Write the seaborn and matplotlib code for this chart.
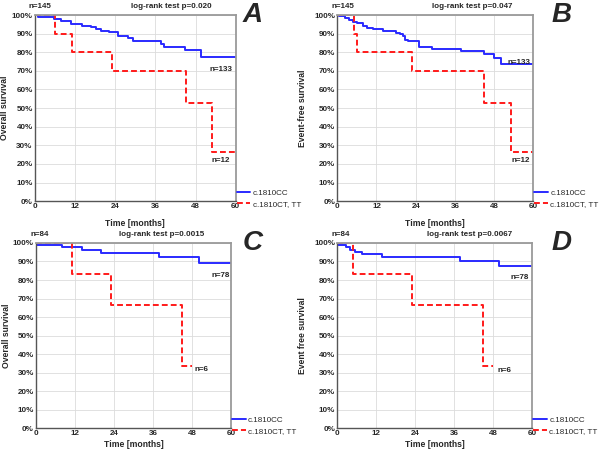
import matplotlib
matplotlib.use("Agg")
import matplotlib.pyplot as plt
import seaborn as sns
import pandas as pd
from matplotlib.ticker import FuncFormatter

# <--- data --->
groups = ["c.1810CC", "c.1810CT, TT"]

a_cc_t = [0, 1.0, 5.6, 7.9, 10.8, 14.0, 16.7, 18.2, 19.8, 22.0, 24.8, 27.9, 29.2, 37.8, 38.7, 44.8, 49.5, 60]
a_cc_s = [100, 98.9, 98.0, 96.6, 95.0, 94.0, 93.3, 92.5, 91.6, 90.7, 88.9, 87.8, 85.8, 84.5, 82.8, 81.2, 77.4, 77.4]
a_ct_t = [0, 6, 11, 23, 45, 53, 60]
a_ct_s = [100, 90, 80, 70, 52.5, 26.25, 26.25]

b_cc_t = [0, 0.5, 2.4, 3.7, 4.8, 6.2, 7.9, 9.1, 11, 14, 16.5, 17.9, 19.1, 20, 20.7, 21.7, 25.1, 29, 38, 45, 47.9, 50, 60]
b_cc_s = [100, 99.3, 98.4, 97.3, 96.4, 95.7, 93.9, 93.1, 92.4, 91.5, 91.2, 90.6, 89.9, 88.8, 86.8, 85.9, 83.0, 82.0, 80.7, 78.8, 77.0, 73.8, 73.8]
b_ct_t = [0, 5, 6, 23, 45, 53, 60]
b_ct_s = [100, 90, 80, 70, 52.5, 26.25, 26.25]

c_cc_t = [0, 7.9, 14, 20, 37.9, 50, 60]
c_cc_s = [98.8, 97.6, 96.3, 94.8, 92.6, 89.3, 89.3]
c_ct_t = [0, 11, 23, 45, 48]
c_ct_s = [100, 83.3, 66.7, 33.3, 33.3]

d_cc_t = [0, 2.6, 3.9, 5.5, 7.7, 13.9, 37.9, 49.8, 60]
d_cc_s = [98.8, 97.6, 96.4, 95.2, 93.9, 92.6, 90.0, 87.4, 87.4]
d_ct_t = [0, 5, 23, 45, 48]
d_ct_s = [100, 83.3, 66.7, 33.3, 33.3]

panel_letters = ["A", "B", "C", "D"]
y_labels = ["Overall survival", "Event-free survival", "Overall survival", "Event free survival"]
n_total = ["n=145", "n=145", "n=84", "n=84"]
p_texts = ["log-rank test p=0.020", "log-rank test p=0.047", "log-rank test p=0.0015", "log-rank test p=0.0067"]
n_cc = ["n=133", "n=133", "n=78", "n=78"]
n_ct = ["n=12", "n=12", "n=6", "n=6"]
x_ticks = [0, 12, 24, 36, 48, 60]
y_ticks = [0, 10, 20, 30, 40, 50, 60, 70, 80, 90, 100]

curves = [
    (a_cc_t, a_cc_s, a_ct_t, a_ct_s),
    (b_cc_t, b_cc_s, b_ct_t, b_ct_s),
    (c_cc_t, c_cc_s, c_ct_t, c_ct_s),
    (d_cc_t, d_cc_s, d_ct_t, d_ct_s),
]

# layout (figure fractions) and label placement per panel
axes_rects = [
    [0.058, 0.558, 0.335, 0.409],
    [0.562, 0.558, 0.327, 0.409],
    [0.060, 0.059, 0.325, 0.407],
    [0.562, 0.059, 0.325, 0.407],
]
letter_x = [1.035, 1.09, 1.06, 1.10]
p_x = [0.68, 0.69, 0.645, 0.68]
cc_lab = [(59, 70.5), (59.1, 74.7), (59.7, 82.7), (59.1, 81.6)]
ct_lab = [(58.2, 22), (58.8, 22), (48.9, 31.9), (49.2, 31.4)]
ylab_x = [-0.128, -0.155, -0.128, -0.155]
xlab_y = [-0.095, -0.095, -0.065, -0.065]

sns.set_style("white")
plt.rcParams["font.family"] = ["Liberation Sans", "DejaVu Sans"]

palette = {groups[0]: "#2a2aff", groups[1]: "#ff1a1a"}
dashes = {groups[0]: "", groups[1]: (3, 1.6)}

fig = plt.figure(figsize=(6, 4.55), dpi=100)

for i in range(4):
    cc_t, cc_s, ct_t, ct_s = curves[i]
    df = pd.DataFrame({
        "time": cc_t + ct_t,
        "surv": cc_s + ct_s,
        "group": [groups[0]] * len(cc_t) + [groups[1]] * len(ct_t),
    })
    ax = fig.add_axes(axes_rects[i])
    sns.lineplot(
        data=df, x="time", y="surv", hue="group", style="group",
        palette=palette, dashes=dashes, estimator=None, sort=False,
        drawstyle="steps-post", linewidth=1.4, legend=False, ax=ax,
    )
    ax.set_xlim(0, 60)
    ax.set_ylim(0, 100)
    ax.set_xticks(x_ticks)
    ax.set_yticks(y_ticks)
    ax.yaxis.set_major_formatter(FuncFormatter(lambda v, p: f"{int(v)}%"))
    ax.tick_params(length=0, pad=1.5, labelsize=5.8)
    for lab in ax.get_xticklabels() + ax.get_yticklabels():
        lab.set_fontweight("bold")
    ax.grid(True, color="#dcdcdc", linewidth=0.6)
    for side in ["top", "right"]:
        ax.spines[side].set_color("#9a9a9a")
        ax.spines[side].set_linewidth(1.3)
    for side in ["left", "bottom"]:
        ax.spines[side].set_color("#555555")
        ax.spines[side].set_linewidth(1.0)

    ax.set_xlabel("Time [months]", fontsize=6.2, fontweight="bold")
    ax.set_ylabel(y_labels[i], fontsize=6.2, fontweight="bold")
    ax.xaxis.set_label_coords(0.5, xlab_y[i])
    ax.yaxis.set_label_coords(ylab_x[i], 0.5)

    ax.text(-0.03, 1.045, n_total[i], transform=ax.transAxes, fontsize=5.8,
            fontweight="bold", ha="left", va="center")
    ax.text(p_x[i], 1.045, p_texts[i], transform=ax.transAxes, fontsize=5.8,
            fontweight="bold", ha="center", va="center")
    ax.text(letter_x[i], 1.0, panel_letters[i], transform=ax.transAxes, fontsize=20,
            fontweight="heavy", fontstyle="italic", ha="left", va="center")
    ax.text(cc_lab[i][0], cc_lab[i][1], n_cc[i], fontsize=5.8, fontweight="bold",
            ha="right", va="center")
    ax.text(ct_lab[i][0], ct_lab[i][1], n_ct[i], fontsize=5.8, fontweight="bold",
            ha="right" if i < 2 else "left", va="center")

    ax.legend(ax.lines[:2], groups, loc="lower left", bbox_to_anchor=(1.005, -0.035),
              frameon=False, fontsize=5.8, handlelength=1.7, handletextpad=0.3,
              labelspacing=0.35, borderaxespad=0, borderpad=0)

fig.savefig("out.png", dpi=100)
